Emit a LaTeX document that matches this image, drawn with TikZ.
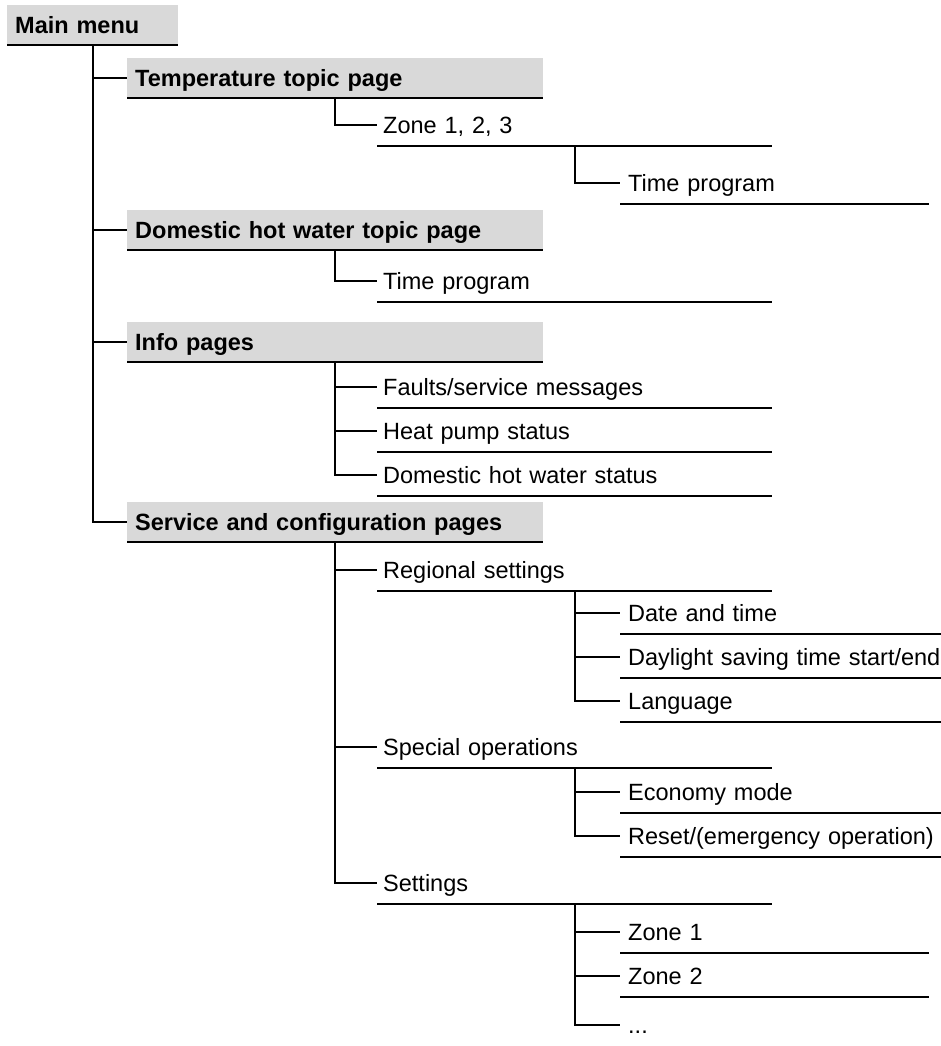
\documentclass[tikz,border=0pt]{standalone}
\usepackage{fontspec}
\setmainfont{Liberation Sans}
\definecolor{boxgray}{RGB}{217,217,217}
\begin{document}
\begin{tikzpicture}[x=1pt,y=-1pt,
  every node/.style={font=\fontsize{23.5}{28}\selectfont, text height=16.9pt, text depth=0pt,
    inner ysep=0pt, anchor=west, align=left, text=black},
  tree/.style={line width=2pt},
  uline/.style={line width=1.8pt},
  ul/.style={append after command={(\tikzlastnode.south west) edge[uline] (\tikzlastnode.south east)}},
  hdr/.style={fill=boxgray, minimum height=40pt, inner xsep=8pt,
    font=\fontsize{23.5}{28}\selectfont\bfseries, ul},
  lzero/.style={hdr, text width=155pt},
  lone/.style={hdr, text width=400pt},
  ltwo/.style={minimum height=42pt, inner xsep=6pt, text width=383pt, ul},
  lthree/.style={minimum height=42pt, inner xsep=8pt, text width=293pt, ul},
  lthreew/.style={minimum height=42pt, inner xsep=8pt, text width=305pt, ul},
  lthreen/.style={minimum height=42pt, inner xsep=8pt, text width=293pt},
]
\useasboundingbox (0,0) rectangle (941,1046);

% level 0
\node[lzero] (mm) at (7,25) {Main menu};

% level 1
\node[lone] (temp) at (127,78) {Temperature topic page};
\node[lone] (dhw) at (127,230) {Domestic hot water topic page};
\node[lone] (info) at (127,342) {Info pages};
\node[lone] (serv) at (127,522) {Service and configuration pages};

% level 2
\node[ltwo] (zone) at (377,125) {Zone 1, 2, 3};
\node[ltwo] (dhwtp) at (377,281) {Time program};
\node[ltwo] (faults) at (377,387) {Faults/service messages};
\node[ltwo] (hps) at (377,431) {Heat pump status};
\node[ltwo] (dhws) at (377,475) {Domestic hot water status};
\node[ltwo] (reg) at (377,570) {Regional settings};
\node[ltwo] (spec) at (377,747) {Special operations};
\node[ltwo] (sett) at (377,883) {Settings};

% level 3
\node[lthree] (ztp) at (620,183) {Time program};
\node[lthreew] (date) at (620,613) {Date and time};
\node[lthreew] (dst) at (620,657) {\mbox{Daylight saving time start/end}};
\node[lthreew] (lang) at (620,701) {Language};
\node[lthreew] (eco) at (620,792) {Economy mode};
\node[lthreew] (reset) at (620,836) {\mbox{Reset/(emergency operation)}};
\node[lthree] (z1) at (620,932) {Zone 1};
\node[lthree] (z2) at (620,976) {Zone 2};
\node[lthreen] (more) at (620,1025) {...};

% connectors
\foreach \c in {temp,dhw,info,serv} \draw[tree] (mm.south) |- (\c.west);
\draw[tree] (temp.south) |- (zone.west);
\draw[tree] (dhw.south) |- (dhwtp.west);
\foreach \c in {faults,hps,dhws} \draw[tree] (info.south) |- (\c.west);
\foreach \c in {reg,spec,sett} \draw[tree] (serv.south) |- (\c.west);
\draw[tree] (zone.south) |- (ztp.west);
\foreach \c in {date,dst,lang} \draw[tree] (reg.south) |- (\c.west);
\foreach \c in {eco,reset} \draw[tree] (spec.south) |- (\c.west);
\foreach \c in {z1,z2,more} \draw[tree] (sett.south) |- (\c.west);
\end{tikzpicture}
\end{document}
